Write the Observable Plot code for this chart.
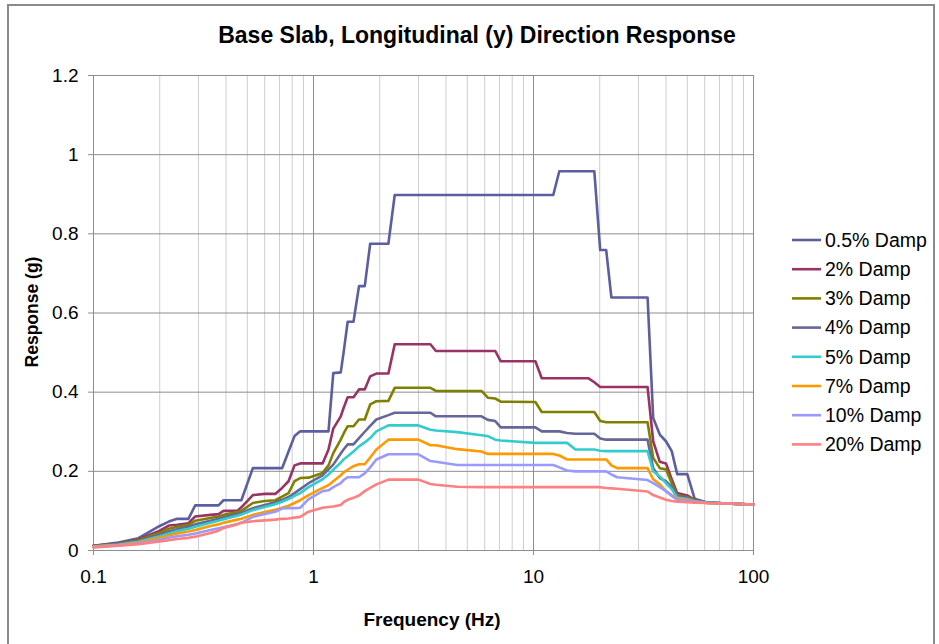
<!DOCTYPE html>
<html><head><meta charset="utf-8">
<script src="https://cdn.jsdelivr.net/npm/d3@7"></script>
<script src="https://cdn.jsdelivr.net/npm/@observablehq/plot@0.6"></script>
<style>
html,body{margin:0;padding:0;background:#fff;}
#chart{position:relative;width:939px;height:644px;overflow:hidden;}
</style></head><body><div id="chart"></div>
<script>
const freqs = [0.1,0.13,0.16,0.2,0.22,0.24,0.27,0.29,0.34,0.37,
  0.39,0.45,0.47,0.53,0.6,0.67,0.72,0.77,0.82,0.87,
  0.95,1.1,1.17,1.23,1.33,1.37,1.43,1.52,1.61,1.71,
  1.81,1.93,2.19,2.34,3.0,3.4,3.6,4.5,5.8,6.2,
  6.7,7.1,10.2,10.9,12.3,13.1,14.2,15.5,17.8,18.9,
  20.1,21.4,22.6,24,33,35,37.5,40,42.5,45,
  50,54,61,80,100];

const seriesNames = ["0.5% Damp","2% Damp","3% Damp","4% Damp","5% Damp","7% Damp","10% Damp","20% Damp"];
const seriesColors = ["#5c5f9f","#993366","#808000","#666699","#33cccc","#ff9900","#9999ff","#ff8080"];

const s05 = [0.012,0.020,0.031,0.062,0.073,0.080,0.080,0.114,0.114,0.114,
  0.127,0.127,0.127,0.208,0.208,0.208,0.208,0.250,0.289,0.301,
  0.301,0.301,0.301,0.448,0.450,0.500,0.578,0.578,0.668,0.668,
  0.775,0.775,0.775,0.898,0.898,0.898,0.898,0.898,0.898,0.898,
  0.898,0.898,0.898,0.898,0.898,0.958,0.958,0.958,0.958,0.958,
  0.759,0.759,0.639,0.639,0.639,0.335,0.293,0.276,0.251,0.193,
  0.193,0.131,0.122,0.118,0.116];
const s2 = [0.012,0.018,0.028,0.050,0.063,0.065,0.069,0.086,0.090,0.092,
  0.100,0.100,0.109,0.140,0.143,0.143,0.158,0.175,0.215,0.220,
  0.220,0.220,0.255,0.308,0.339,0.360,0.387,0.387,0.407,0.407,
  0.440,0.447,0.447,0.521,0.521,0.521,0.504,0.504,0.504,0.504,
  0.504,0.478,0.478,0.435,0.435,0.435,0.435,0.435,0.435,0.425,
  0.413,0.413,0.413,0.413,0.413,0.276,0.224,0.220,0.180,0.145,
  0.139,0.128,0.121,0.118,0.116];
const s3 = [0.011,0.017,0.026,0.045,0.055,0.060,0.065,0.075,0.082,0.086,
  0.090,0.097,0.100,0.120,0.125,0.127,0.136,0.145,0.175,0.183,
  0.184,0.196,0.215,0.246,0.280,0.295,0.314,0.314,0.331,0.331,
  0.369,0.377,0.378,0.411,0.411,0.411,0.403,0.403,0.403,0.386,
  0.384,0.376,0.375,0.350,0.350,0.350,0.350,0.350,0.350,0.350,
  0.327,0.324,0.324,0.324,0.324,0.234,0.208,0.205,0.170,0.139,
  0.135,0.127,0.121,0.118,0.116];
const s4 = [0.011,0.016,0.024,0.040,0.048,0.054,0.060,0.066,0.075,0.080,
  0.084,0.092,0.095,0.107,0.115,0.122,0.128,0.135,0.145,0.155,
  0.170,0.190,0.205,0.217,0.245,0.255,0.268,0.268,0.284,0.300,
  0.315,0.331,0.342,0.348,0.348,0.348,0.339,0.339,0.339,0.330,
  0.327,0.311,0.311,0.301,0.301,0.301,0.297,0.295,0.295,0.295,
  0.283,0.280,0.280,0.280,0.280,0.208,0.183,0.175,0.160,0.137,
  0.133,0.126,0.121,0.118,0.116];
const s5 = [0.010,0.015,0.022,0.036,0.043,0.049,0.055,0.060,0.070,0.075,
  0.079,0.088,0.091,0.102,0.110,0.117,0.123,0.130,0.138,0.145,
  0.160,0.180,0.192,0.204,0.222,0.230,0.238,0.250,0.263,0.273,
  0.284,0.301,0.316,0.316,0.316,0.305,0.303,0.299,0.291,0.289,
  0.280,0.278,0.272,0.272,0.272,0.272,0.272,0.255,0.255,0.255,
  0.252,0.251,0.251,0.251,0.251,0.200,0.187,0.170,0.155,0.134,
  0.130,0.125,0.121,0.118,0.116];
const s7 = [0.010,0.014,0.020,0.032,0.038,0.043,0.048,0.052,0.062,0.066,
  0.070,0.078,0.080,0.090,0.097,0.103,0.108,0.113,0.120,0.127,
  0.140,0.158,0.165,0.175,0.190,0.197,0.204,0.213,0.218,0.218,
  0.235,0.255,0.280,0.280,0.280,0.266,0.266,0.256,0.250,0.244,
  0.244,0.244,0.244,0.244,0.244,0.240,0.230,0.230,0.230,0.230,
  0.230,0.230,0.215,0.208,0.208,0.180,0.167,0.150,0.140,0.132,
  0.128,0.124,0.120,0.118,0.116];
const s10 = [0.009,0.013,0.018,0.027,0.032,0.036,0.040,0.043,0.052,0.056,
  0.059,0.067,0.070,0.085,0.092,0.098,0.106,0.107,0.107,0.108,
  0.130,0.150,0.152,0.160,0.170,0.178,0.185,0.185,0.185,0.195,
  0.210,0.230,0.243,0.243,0.243,0.226,0.224,0.216,0.216,0.216,
  0.216,0.216,0.216,0.216,0.216,0.210,0.202,0.200,0.200,0.200,
  0.200,0.200,0.192,0.185,0.178,0.170,0.160,0.150,0.138,0.128,
  0.126,0.123,0.120,0.118,0.116];
const s20 = [0.008,0.012,0.016,0.023,0.026,0.029,0.032,0.035,0.044,0.050,
  0.057,0.066,0.070,0.074,0.076,0.078,0.080,0.081,0.083,0.085,
  0.098,0.108,0.110,0.111,0.115,0.122,0.128,0.133,0.139,0.150,
  0.158,0.167,0.179,0.179,0.179,0.168,0.166,0.161,0.160,0.160,
  0.160,0.160,0.160,0.160,0.160,0.160,0.160,0.160,0.160,0.160,
  0.160,0.158,0.157,0.156,0.149,0.140,0.134,0.128,0.125,0.123,
  0.122,0.121,0.120,0.118,0.116];

const xTicks = [0.1, 1, 10, 100];
const xMinorTicks = [0.2,0.3,0.4,0.5,0.6,0.7,0.8,0.9,2,3,4,5,6,7,8,9,20,30,40,50,60,70,80,90];
const yTicks = [0, 0.2, 0.4, 0.6, 0.8, 1, 1.2];

const titleText = "Base Slab, Longitudinal (y) Direction Response";
const xLabel = "Frequency (Hz)";
const yLabel = "Response (g)";

const allSeries = [s05, s2, s3, s4, s5, s7, s10, s20];
const rows = [];
allSeries.forEach((vals, i) => vals.forEach((v, j) => rows.push({f: freqs[j], r: v, s: seriesNames[i]})));

const FONT = "'Liberation Sans', Arial, Helvetica, sans-serif";

const chart = Plot.plot({
  width: 939, height: 644,
  marginLeft: 93, marginRight: 186, marginTop: 75, marginBottom: 94,
  style: {fontFamily: FONT, fontSize: "19px", color: "#000", background: "#fff", overflow: "visible"},
  x: {type: "log", domain: [0.1, 100]},
  y: {domain: [0, 1.2]},
  color: {domain: seriesNames, range: seriesColors},
  marks: [
    Plot.ruleX(xMinorTicks, {stroke: "#cdcdcd", strokeWidth: 1}),
    Plot.ruleX(xTicks, {stroke: "#8e8e8e", strokeWidth: 1}),
    Plot.ruleY(yTicks, {stroke: "#8e8e8e", strokeWidth: 1}),
    Plot.axisX(xTicks, {tickSize: 5, tickPadding: 14, tickFormat: d => String(d), stroke: "#8e8e8e", label: null, fontSize: 19}),
    Plot.axisY(yTicks, {tickSize: 5, tickPadding: 10, tickFormat: d => String(d), stroke: "#8e8e8e", label: null, fontSize: 19}),
    Plot.line(rows, {x: "f", y: "r", z: "s", stroke: "s", strokeWidth: 2.6, strokeLinejoin: "round", strokeLinecap: "round"})
  ]
});

document.getElementById("chart").appendChild(chart);
const svg = d3.select(chart);

// outer chart frame
svg.append("rect").attr("x", 8).attr("y", 5).attr("width", 926).attr("height", 660)
  .attr("fill", "none").attr("stroke", "#8a8a8a").attr("stroke-width", 2);

svg.append("text").attr("x", 477).attr("y", 43).attr("text-anchor", "middle")
  .attr("font-family", FONT).attr("font-weight", "bold").attr("font-size", 23).attr("fill", "#000").text(titleText);

svg.append("text").attr("x", 432).attr("y", 626).attr("text-anchor", "middle")
  .attr("font-family", FONT).attr("font-weight", "bold").attr("font-size", 19).attr("fill", "#000").text(xLabel);

svg.append("text").attr("transform", "translate(38,312) rotate(-90)").attr("text-anchor", "middle")
  .attr("font-family", FONT).attr("font-weight", "bold").attr("font-size", 17.5).attr("fill", "#000").text(yLabel);

const lg = svg.append("g").attr("text-anchor", "start");
seriesNames.forEach((name, i) => {
  const y = 240 + i * 29.2;
  lg.append("line").attr("x1", 792).attr("x2", 821).attr("y1", y).attr("y2", y)
    .attr("stroke", seriesColors[i]).attr("stroke-width", 2.6);
  lg.append("text").attr("x", 825).attr("y", y).attr("dy", "0.35em").attr("text-anchor", "start")
    .attr("font-family", FONT).attr("font-size", 19.5).attr("fill", "#000").text(name);
});
</script></body></html>
